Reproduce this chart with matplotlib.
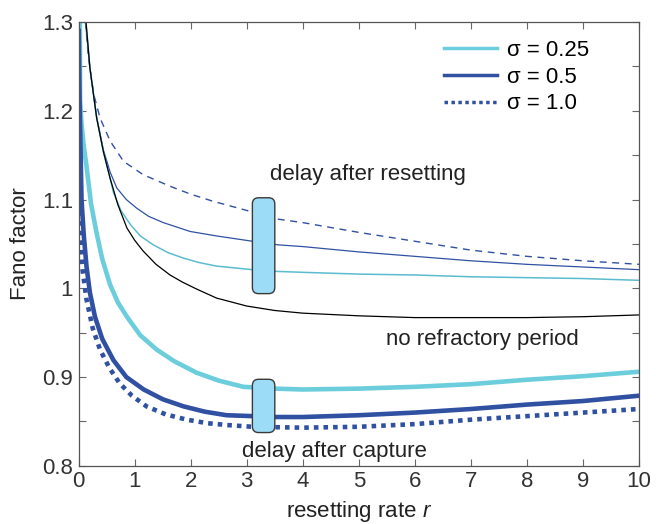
import numpy as np
import matplotlib
matplotlib.use("Agg")
import matplotlib.pyplot as plt
from matplotlib.patches import FancyBboxPatch
from matplotlib.lines import Line2D

plt.rcParams['font.family'] = ['Liberation Sans', 'DejaVu Sans']
plt.rcParams['mathtext.fontset'] = 'custom'
plt.rcParams['mathtext.rm'] = 'Liberation Sans'
plt.rcParams['mathtext.it'] = 'Liberation Sans:italic'

# values
# thick: delay after capture
r_cap025 = [0.02, 0.024, 0.05, 0.09, 0.14, 0.22, 0.32, 0.42, 0.56, 0.7, 0.86, 1.1, 1.39, 1.7, 2.1, 2.5, 2.94,
            3.5, 4.0, 5.0, 6.0, 7.0, 8.0, 9.0, 10.0]
f_cap025 = [1.30, 1.212, 1.185, 1.16, 1.137, 1.095, 1.062, 1.033, 1.004, 0.984, 0.968, 0.947, 0.931, 0.918, 0.905, 0.896, 0.889,
            0.887, 0.886, 0.887, 0.889, 0.892, 0.897, 0.901, 0.906]

r_cap05 = [0.0, 0.015, 0.05, 0.09, 0.14, 0.2, 0.29, 0.42, 0.62, 0.85, 1.16, 1.5, 1.87, 2.25, 2.64, 3.1,
           3.5, 4.0, 5.0, 6.0, 7.0, 8.0, 9.0, 10.0]
f_cap05 = [1.29, 1.212, 1.10, 1.06, 1.024, 0.995, 0.968, 0.943, 0.919, 0.900, 0.886, 0.875, 0.867, 0.861, 0.857, 0.856,
           0.855, 0.855, 0.857, 0.860, 0.864, 0.869, 0.873, 0.879]

r_cap10 = [0.0, 0.01, 0.03, 0.07, 0.14, 0.25, 0.38, 0.55, 0.73, 0.95, 1.21, 1.55, 1.93, 2.3, 2.64, 3.1,
           4.0, 5.0, 6.0, 7.0, 8.0, 9.0, 10.0]
f_cap10 = [1.195, 1.13, 1.062, 1.02, 0.987, 0.955, 0.931, 0.910, 0.893, 0.879, 0.867, 0.858, 0.852, 0.848, 0.846, 0.844,
           0.843, 0.844, 0.847, 0.852, 0.856, 0.860, 0.864]

# thin: no refractory period and delay after resetting
r_none = [0.13, 0.2, 0.32, 0.44, 0.56, 0.7, 0.86, 1.0, 1.15, 1.38, 1.63, 1.85, 2.11, 2.46, 3.0, 3.5, 4.0,
          5.0, 6.0, 7.0, 8.0, 9.0, 10.0]
f_none = [1.30, 1.248, 1.192, 1.154, 1.124, 1.094, 1.068, 1.054, 1.042, 1.027, 1.015, 1.007, 0.999, 0.989, 0.980, 0.975, 0.972,
          0.969, 0.967, 0.967, 0.967, 0.968, 0.970]

r_res025 = [0.13, 0.2, 0.32, 0.44, 0.56, 0.62, 0.75, 0.92, 1.1, 1.33, 1.6, 1.87, 2.15, 2.46, 3.1, 3.55, 4.0,
            5.0, 6.0, 7.0, 8.0, 9.0, 10.0]
f_res025 = [1.30, 1.248, 1.192, 1.154, 1.124, 1.108, 1.088, 1.072, 1.059, 1.049, 1.040, 1.034, 1.029, 1.025, 1.021, 1.019, 1.018,
            1.016, 1.015, 1.013, 1.012, 1.011, 1.009]

r_res05 = [0.12, 0.2, 0.32, 0.44, 0.56, 0.68, 0.85, 1.04, 1.25, 1.51, 1.75, 1.99, 2.46, 3.1, 3.55, 4.0,
           5.0, 6.0, 7.0, 8.0, 9.0, 10.0]
f_res05 = [1.30, 1.248, 1.193, 1.156, 1.131, 1.113, 1.100, 1.090, 1.081, 1.074, 1.069, 1.064, 1.059, 1.053, 1.049, 1.047,
           1.041, 1.036, 1.031, 1.027, 1.024, 1.021]

r_res10 = [0.12, 0.17, 0.27, 0.38, 0.56, 0.8, 1.15, 1.63, 2.0, 2.4, 3.1, 3.55, 4.0, 5.0, 6.0, 7.0, 8.0, 9.0, 10.0]
f_res10 = [1.30, 1.262, 1.218, 1.192, 1.166, 1.143, 1.128, 1.115, 1.106, 1.098, 1.086, 1.078, 1.074, 1.063, 1.053, 1.043,
           1.036, 1.031, 1.027]

legend_labels = ["σ = 0.25", "σ = 0.5", "σ = 1.0"]
yticks = [0.8, 0.85, 0.9, 0.95, 1.0, 1.05, 1.1, 1.15, 1.2, 1.25, 1.3]
ytick_labels = ["0.8", "", "0.9", "", "1", "", "1.1", "", "1.2", "", "1.3"]

cyan = '#6ccedc'
cyan_thin = '#5bbccf'
navy = '#3050a2'

fig = plt.figure(figsize=(6.56, 5.24), dpi=100)
ax = fig.add_axes([0.120, 0.111, 0.854, 0.847])

# thin curves
ax.plot(r_res10, f_res10, color=navy, lw=1.0, ls=(0, (5, 4)))
ax.plot(r_res05, f_res05, color=navy, lw=0.9)
ax.plot(r_res025, f_res025, color=cyan_thin, lw=1.1)
ax.plot(r_none, f_none, color='black', lw=0.9)

# thick curves
ax.plot(r_cap025, f_cap025, color=cyan, lw=3.3)
ax.plot(r_cap05, f_cap05, color=navy, lw=3.3)
ax.plot(r_cap10, f_cap10, color=navy, lw=3.3, ls=(0, (1, 1.1)))

# rounded markers
asp = (56.0 / 888.0)
for (x0, y0, h) in [(3.1, 0.994, 0.108), (3.1, 0.8375, 0.060)]:
    box = FancyBboxPatch((x0, y0), 0.4, h,
                         boxstyle="round,pad=0,rounding_size=0.11",
                         mutation_aspect=asp, facecolor='#9cdcf7',
                         edgecolor='#3a3a3a', lw=1.0, zorder=5)
    ax.add_patch(box)

ax.text(5.16, 1.128, "delay after resetting", fontsize=16, color='#222222', ha='center', va='center')
ax.text(7.2, 0.942, "no refractory period", fontsize=16, color='#222222', ha='center', va='center')
ax.text(4.57, 0.816, "delay after capture", fontsize=16, color='#222222', ha='center', va='center')

handles = [Line2D([], [], color=cyan, lw=2.5),
           Line2D([], [], color=navy, lw=2.5),
           Line2D([], [], color=navy, lw=2.5, ls=(0, (1, 1)))]
ax.legend(handles, legend_labels, loc='upper right', bbox_to_anchor=(0.946, 1.004),
          frameon=False, fontsize=16, handlelength=2.35, handletextpad=0.45,
          labelspacing=0.25)

ax.set_xlim(0, 10)
ax.set_ylim(0.8, 1.3)
ax.set_xticks(range(0, 11))
ax.set_yticks(yticks)
ax.set_yticklabels(ytick_labels)
ax.tick_params(direction='in', length=5, width=0.8, color='#666666',
               labelsize=16, labelcolor='#333333', top=True, right=True, pad=4)
for s in ax.spines.values():
    s.set_color('#555555')
    s.set_linewidth(0.9)

ax.set_xlabel("resetting rate $r$", fontsize=16, color='#222222', labelpad=5)
ax.set_ylabel("Fano factor", fontsize=16, color='#222222', labelpad=8)

fig.savefig("out.png", dpi=100)
